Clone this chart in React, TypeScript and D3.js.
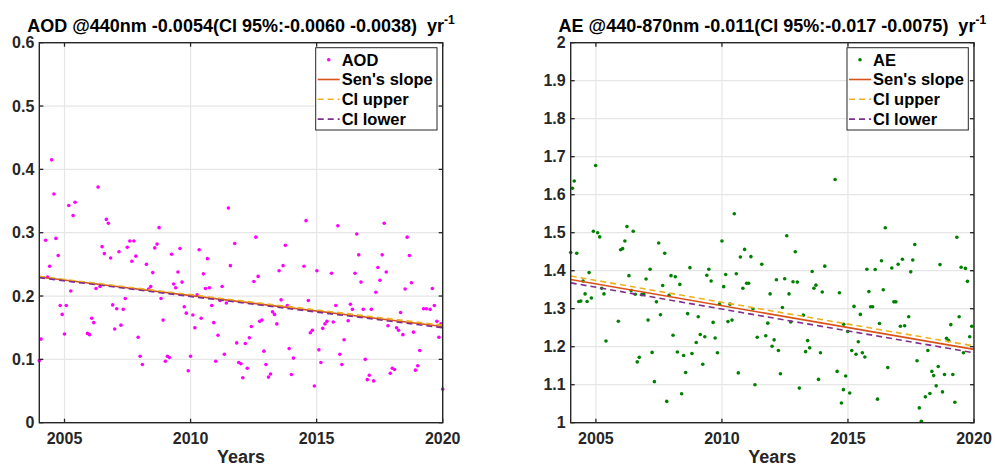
import * as d3 from "d3";
import React from "react";

// AOD @440nm, monthly means (decimal year, value)
const aodYears = [
  2004.0, 2004.07, 2004.25, 2004.33, 2004.41, 2004.49, 2004.58, 2004.66, 2004.75, 2004.83, 2004.91,
  2005.0, 2005.07, 2005.17, 2005.25, 2005.34, 2005.42, 2005.91, 2005.99, 2006.08, 2006.16, 2006.25,
  2006.33, 2006.41, 2006.49, 2006.58, 2006.66, 2006.74, 2006.83, 2006.91, 2006.99, 2007.07, 2007.16,
  2007.24, 2007.33, 2007.41, 2007.49, 2007.59, 2007.67, 2007.75, 2007.83, 2007.92, 2008.0, 2008.09,
  2008.25, 2008.34, 2008.42, 2008.5, 2008.58, 2008.67, 2008.75, 2008.83, 2008.91, 2009.0, 2009.08,
  2009.16, 2009.25, 2009.33, 2009.41, 2009.5, 2009.58, 2009.66, 2009.75, 2009.83, 2009.91, 2010.0,
  2010.09, 2010.17, 2010.26, 2010.34, 2010.42, 2010.51, 2010.59, 2010.67, 2010.75, 2010.84, 2010.92,
  2011.0, 2011.09, 2011.17, 2011.25, 2011.34, 2011.42, 2011.5, 2011.58, 2011.75, 2011.83, 2011.91,
  2012.0, 2012.07, 2012.17, 2012.25, 2012.33, 2012.41, 2012.51, 2012.59, 2012.68, 2012.74, 2012.83,
  2012.91, 2012.99, 2013.09, 2013.17, 2013.25, 2013.33, 2013.42, 2013.51, 2013.59, 2013.67, 2013.76,
  2013.84, 2013.91, 2014.0, 2014.08, 2014.5, 2014.58, 2014.67, 2014.75, 2014.83, 2014.91, 2015.01,
  2015.09, 2015.17, 2015.24, 2015.33, 2015.41, 2015.59, 2015.66, 2015.76, 2015.84, 2015.92, 2016.0,
  2016.09, 2016.25, 2016.34, 2016.42, 2016.52, 2016.59, 2016.67, 2016.76, 2016.85, 2016.93, 2017.01,
  2017.09, 2017.17, 2017.26, 2017.35, 2017.43, 2017.51, 2017.6, 2017.68, 2017.76, 2017.83, 2017.92,
  2018.0, 2018.09, 2018.17, 2018.25, 2018.33, 2018.42, 2018.51, 2018.59, 2018.68, 2018.76, 2018.84,
  2018.92, 2019.01, 2019.09, 2019.24, 2019.35, 2019.5, 2019.59, 2019.67, 2019.77, 2019.85, 2019.93,
  2020.0,
];
const aodValues = [
  0.098, 0.132, 0.288, 0.230, 0.247, 0.415, 0.361, 0.291, 0.264, 0.185, 0.171,
  0.140, 0.185, 0.343, 0.208, 0.327, 0.348, 0.141, 0.139, 0.165, 0.158, 0.212,
  0.372, 0.215, 0.278, 0.267, 0.321, 0.315, 0.260, 0.186, 0.148, 0.180, 0.270,
  0.154, 0.179, 0.196, 0.277, 0.287, 0.255, 0.287, 0.263, 0.135, 0.105, 0.092,
  0.250, 0.211, 0.215, 0.237, 0.276, 0.282, 0.308, 0.196, 0.162, 0.097, 0.105,
  0.103, 0.266, 0.219, 0.213, 0.238, 0.275, 0.222, 0.183, 0.173, 0.082, 0.105,
  0.170, 0.150, 0.202, 0.273, 0.165, 0.235, 0.212, 0.259, 0.213, 0.185, 0.158,
  0.097, 0.138, 0.193, 0.215, 0.108, 0.189, 0.339, 0.248, 0.283, 0.126, 0.095,
  0.093, 0.071, 0.125, 0.086, 0.134, 0.152, 0.223, 0.293, 0.231, 0.160, 0.162,
  0.113, 0.092, 0.072, 0.077, 0.175, 0.171, 0.156, 0.240, 0.194, 0.248, 0.280,
  0.185, 0.117, 0.076, 0.102, 0.247, 0.319, 0.193, 0.142, 0.146, 0.058, 0.240,
  0.115, 0.095, 0.149, 0.156, 0.160, 0.236, 0.159, 0.185, 0.311, 0.108, 0.092,
  0.131, 0.161, 0.187, 0.179, 0.236, 0.298, 0.265, 0.222, 0.179, 0.100, 0.068,
  0.075, 0.179, 0.066, 0.206, 0.245, 0.225, 0.265, 0.315, 0.238, 0.153, 0.078,
  0.086, 0.084, 0.150, 0.146, 0.174, 0.139, 0.211, 0.293, 0.264, 0.221, 0.143,
  0.083, 0.090, 0.114, 0.180, 0.180, 0.179, 0.212, 0.185, 0.160, 0.135, 0.156,
  0.053,
];

// AE @440-870nm, monthly means (decimal year, value)
const aeYears = [
  2004.0, 2004.07, 2004.14, 2004.24, 2004.32, 2004.4, 2004.49, 2004.57, 2004.65, 2004.73, 2004.82,
  2004.9, 2004.99, 2005.07, 2005.15, 2005.23, 2005.32, 2005.4, 2005.89, 2005.98, 2006.06, 2006.15,
  2006.23, 2006.31, 2006.4, 2006.48, 2006.56, 2006.64, 2006.72, 2006.82, 2006.9, 2006.99, 2007.07,
  2007.15, 2007.23, 2007.32, 2007.4, 2007.49, 2007.56, 2007.65, 2007.73, 2007.81, 2007.9, 2007.98,
  2008.06, 2008.15, 2008.23, 2008.33, 2008.4, 2008.48, 2008.56, 2008.64, 2008.73, 2008.81, 2008.98,
  2009.06, 2009.14, 2009.24, 2009.32, 2009.4, 2009.48, 2009.57, 2009.65, 2009.73, 2009.82, 2009.9,
  2010.0, 2010.07, 2010.15, 2010.24, 2010.32, 2010.4, 2010.49, 2010.57, 2010.65, 2010.73, 2010.83,
  2010.9, 2010.98, 2011.06, 2011.15, 2011.23, 2011.31, 2011.4, 2011.58, 2011.74, 2011.82, 2011.91,
  2011.99, 2012.07, 2012.16, 2012.24, 2012.32, 2012.4, 2012.49, 2012.57, 2012.66, 2012.73, 2012.82,
  2012.91, 2012.99, 2013.07, 2013.23, 2013.32, 2013.4, 2013.48, 2013.58, 2013.65, 2013.73, 2013.83,
  2013.91, 2013.98, 2014.08, 2014.49, 2014.57, 2014.66, 2014.74, 2014.82, 2014.83, 2014.91, 2014.99,
  2015.07, 2015.15, 2015.24, 2015.32, 2015.41, 2015.49, 2015.57, 2015.67, 2015.75, 2015.83, 2015.9,
  2015.98, 2016.08, 2016.17, 2016.25, 2016.33, 2016.4, 2016.48, 2016.58, 2016.74, 2016.82, 2016.9,
  2016.99, 2017.08, 2017.16, 2017.25, 2017.41, 2017.49, 2017.57, 2017.65, 2017.74, 2017.83, 2017.91,
  2018.07, 2018.17, 2018.25, 2018.33, 2018.4, 2018.5, 2018.58, 2018.65, 2018.75, 2018.83, 2018.91,
  2018.99, 2019.08, 2019.16, 2019.24, 2019.32, 2019.41, 2019.49, 2019.58, 2019.66, 2019.74, 2019.83,
  2019.91,
];
const aeValues = [
  1.448, 1.617, 1.636, 1.446, 1.319, 1.320, 1.373, 1.339, 1.319, 1.395, 1.328,
  1.504, 1.677, 1.500, 1.489, 1.354, 1.339, 1.215, 1.267, 1.455, 1.458, 1.478,
  1.516, 1.387, 1.348, 1.504, 1.338, 1.160, 1.172, 1.337, 1.339, 1.378, 1.270,
  1.404, 1.185, 1.108, 1.318, 1.473, 1.284, 1.361, 1.446, 1.056, 1.335, 1.387,
  1.230, 1.384, 1.186, 1.364, 1.076, 1.177, 1.132, 1.287, 1.408, 1.182, 1.211,
  1.279, 1.232, 1.154, 1.226, 1.388, 1.404, 1.373, 1.264, 1.223, 1.184, 1.312,
  1.478, 1.358, 1.390, 1.266, 1.312, 1.270, 1.550, 1.392, 1.131, 1.436, 1.354,
  1.456, 1.367, 1.367, 1.437, 1.300, 1.100, 1.225, 1.417, 1.229, 1.262, 1.339,
  1.201, 1.218, 1.376, 1.190, 1.129, 1.303, 1.379, 1.492, 1.339, 1.265, 1.371,
  1.450, 1.370, 1.091, 1.283, 1.187, 1.216, 1.197, 1.398, 1.354, 1.362, 1.114,
  1.184, 1.344, 1.412, 1.640, 1.135, 1.342, 1.052, 1.087, 1.259, 1.123, 1.240,
  1.078, 1.190, 1.306, 1.180, 1.213, 1.285, 1.184, 1.173, 1.404, 1.345, 1.305,
  1.305, 1.403, 1.062, 1.261, 1.426, 1.350, 1.513, 1.145, 1.407, 1.318, 1.318,
  1.417, 1.254, 1.430, 1.255, 1.279, 1.397, 1.428, 1.469, 1.163, 1.039, 1.004,
  1.068, 1.190, 1.077, 1.135, 1.124, 1.097, 1.148, 1.416, 1.081, 1.127, 1.222,
  1.216, 1.258, 1.127, 1.054, 1.488, 1.279, 1.409, 1.184, 1.406, 1.372, 1.226,
  1.254,
];

// trend lines: values at the start and end year
const trendYears = [2004, 2020];
const aodSen = [0.23, 0.152];
const aodUpper = [0.231, 0.154];
const aodLower = [0.229, 0.15];
const aeSen = [1.377, 1.193];
const aeUpper = [1.386, 1.202];
const aeLower = [1.368, 1.184];

const xTicks = [2005, 2010, 2015, 2020];
const aodTicks = [0, 0.1, 0.2, 0.3, 0.4, 0.5, 0.6];
const aeTicks = [1, 1.1, 1.2, 1.3, 1.4, 1.5, 1.6, 1.7, 1.8, 1.9, 2];

const FONT = "'Liberation Sans', Arial, Helvetica, sans-serif";
const TXT = "#262626";
const SEN = "#D95319";
const UP = "#EDB120";
const LO = "#7E2F8E";

interface PanelProps {
  left: number;
  right: number;
  title: string;
  xs: number[];
  ys: number[];
  yDomain: [number, number];
  yTicks: number[];
  color: string;
  label: string;
  sen: number[];
  upper: number[];
  lower: number[];
}

const Panel: React.FC<PanelProps> = (p) => {
  const top = 42.7, bottom = 422.7;
  const x = d3.scaleLinear().domain([2004, 2020]).range([p.left, p.right]);
  const y = d3.scaleLinear().domain(p.yDomain).range([bottom, top]);
  const line = d3.line<number>().x((_, i) => x(trendYears[i])).y(v => y(v));
  const fmt = (v: number) => d3.format("~g")(+v.toFixed(2));
  const tick = 4;

  const lx = p.right - 127, ly = top + 5, lw = 121.3, lh = 82.3;
  const rows = [0, 1, 2, 3].map(i => ly + 12 + i * 19.8);

  return (
    <g fontFamily={FONT} fontWeight="bold">
      {/* grid */}
      {xTicks.map(t => (
        <line key={"gx" + t} x1={x(t)} x2={x(t)} y1={top} y2={bottom} stroke="#e6e6e6" strokeWidth={1.2} />
      ))}
      {p.yTicks.map(t => (
        <line key={"gy" + t} x1={p.left} x2={p.right} y1={y(t)} y2={y(t)} stroke="#e6e6e6" strokeWidth={1.2} />
      ))}
      {/* data points */}
      {p.xs.map((xv, i) => (
        <circle key={i} cx={x(xv)} cy={y(p.ys[i])} r={1.8} fill={p.color} />
      ))}
      {/* trend lines */}
      <path d={line(p.sen) || ""} fill="none" stroke={SEN} strokeWidth={1.6} />
      <path d={line(p.upper) || ""} fill="none" stroke={UP} strokeWidth={1.6} strokeDasharray="6,4" />
      <path d={line(p.lower) || ""} fill="none" stroke={LO} strokeWidth={1.6} strokeDasharray="6,4" />
      {/* box and ticks */}
      <rect x={p.left} y={top} width={p.right - p.left} height={bottom - top} fill="none" stroke={TXT} strokeWidth={1.4} />
      {xTicks.map(t => (
        <g key={"tx" + t}>
          <line x1={x(t)} x2={x(t)} y1={bottom} y2={bottom - tick} stroke={TXT} strokeWidth={1.3} />
          <line x1={x(t)} x2={x(t)} y1={top} y2={top + tick} stroke={TXT} strokeWidth={1.3} />
          <text x={x(t)} y={443.5} textAnchor="middle" fontSize={16} fill={TXT}>{t}</text>
        </g>
      ))}
      {p.yTicks.map(t => (
        <g key={"ty" + t}>
          <line x1={p.left} x2={p.left + tick} y1={y(t)} y2={y(t)} stroke={TXT} strokeWidth={1.3} />
          <line x1={p.right} x2={p.right - tick} y1={y(t)} y2={y(t)} stroke={TXT} strokeWidth={1.3} />
          <text x={p.left - 5} y={y(t) + 5.7} textAnchor="end" fontSize={16} fill={TXT}>{fmt(t)}</text>
        </g>
      ))}
      <text x={(p.left + p.right) / 2} y={463} textAnchor="middle" fontSize={18} fill={TXT}>Years</text>
      <text x={(p.left + p.right) / 2} y={32} textAnchor="middle" fontSize={18} fill="#000" xmlSpace="preserve" style={{ whiteSpace: "pre" }}>
        {p.title}
        <tspan dy={-8} fontSize={12}>-1</tspan>
      </text>
      {/* legend */}
      <rect x={lx} y={ly} width={lw} height={lh} fill="#fff" stroke={TXT} strokeWidth={1} />
      <circle cx={lx + 13} cy={rows[0]} r={1.8} fill={p.color} />
      <line x1={lx + 2} x2={lx + 24} y1={rows[1]} y2={rows[1]} stroke={SEN} strokeWidth={1.6} />
      <line x1={lx + 2} x2={lx + 24} y1={rows[2]} y2={rows[2]} stroke={UP} strokeWidth={1.6} strokeDasharray="6,4" />
      <line x1={lx + 2} x2={lx + 24} y1={rows[3]} y2={rows[3]} stroke={LO} strokeWidth={1.6} strokeDasharray="6,4" />
      {[p.label, "Sen's slope", "CI upper", "CI lower"].map((s, i) => (
        <text key={s} x={lx + 26} y={rows[i] + 5.8} fontSize={16.5} fill="#000">{s}</text>
      ))}
    </g>
  );
};

export default function App() {
  return (
    <svg width={995} height={467} style={{ position: "absolute", left: 0, top: 0, background: "#fff" }}>
      <Panel
        left={39.3} right={442.7}
        title={"AOD @440nm -0.0054(CI 95%:-0.0060 -0.0038)  yr"}
        xs={aodYears} ys={aodValues} yDomain={[0, 0.6]} yTicks={aodTicks}
        color="#ff00ff" label="AOD" sen={aodSen} upper={aodUpper} lower={aodLower}
      />
      <Panel
        left={570.7} right={974}
        title={"AE @440-870nm -0.011(CI 95%:-0.017 -0.0075)  yr"}
        xs={aeYears} ys={aeValues} yDomain={[1, 2]} yTicks={aeTicks}
        color="#008000" label="AE" sen={aeSen} upper={aeUpper} lower={aeLower}
      />
    </svg>
  );
}
